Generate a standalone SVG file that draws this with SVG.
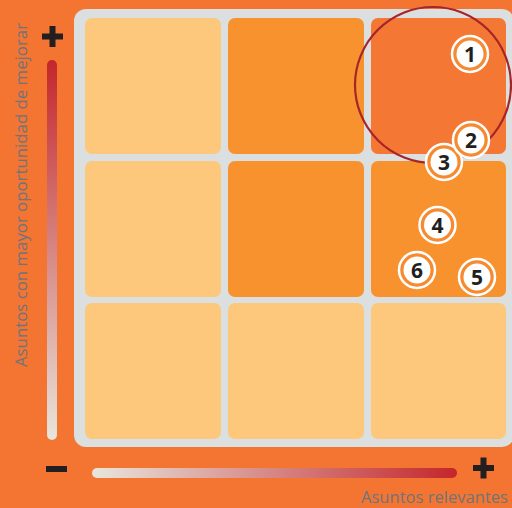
<svg xmlns="http://www.w3.org/2000/svg" width="512" height="508" viewBox="0 0 512 508">
<defs>
<linearGradient id="gv" x1="0" y1="1" x2="0" y2="0"><stop offset="0" stop-color="#E8E6DC"/><stop offset="1" stop-color="#C4262B"/></linearGradient>
<linearGradient id="gh" x1="0" y1="0" x2="1" y2="0"><stop offset="0" stop-color="#E8E6DC"/><stop offset="1" stop-color="#C4262B"/></linearGradient>
<style>
.cl{fill:#FDC77C}.co{fill:#F7922F}.cr{fill:#F47733}
.ring{fill:#F58A30;stroke:#fff;stroke-width:2.5}
.disc{fill:#fff}
.num{font-family:"Open Sans","Liberation Sans",sans-serif;font-weight:bold;font-size:21px;fill:#231F20;text-anchor:middle}
.lbl{font-family:"Open Sans","Liberation Sans",sans-serif;font-size:17px;fill:#70747A}
.blk{fill:#231F20}
</style>
</defs>
<rect width="512" height="508" fill="#F47532"/>
<g id="board">
<rect x="74" y="9" width="440" height="438" rx="12" fill="#DCDFE0"/>
<rect class="cl" x="85" y="18" width="136" height="136" rx="7"/>
<rect class="co" x="228" y="18" width="136" height="136" rx="7"/>
<rect class="cr" x="371" y="18" width="135" height="136" rx="7"/>
<rect class="cl" x="85" y="161" width="136" height="136" rx="7"/>
<rect class="co" x="228" y="161" width="136" height="136" rx="7"/>
<rect class="co" x="371" y="161" width="135" height="136" rx="7"/>
<rect class="cl" x="85" y="303" width="136" height="136" rx="7"/>
<rect class="cl" x="228" y="303" width="136" height="136" rx="7"/>
<rect class="cl" x="371" y="303" width="135" height="136" rx="7"/>
</g>
<g id="highlight"><circle cx="433" cy="85" r="78" fill="none" stroke="#A6252A" stroke-width="2.2"/></g>
<g id="b3"><circle class="ring" cx="444" cy="162" r="18"/><circle class="disc" cx="444" cy="162" r="13.5"/><text class="num" x="444" y="169.5">3</text></g>
<g id="b2"><circle class="ring" cx="471" cy="140" r="18"/><circle class="disc" cx="471" cy="140" r="13.5"/><text class="num" x="471" y="147.5">2</text></g>
<g id="b1"><circle class="ring" cx="470" cy="54" r="18"/><circle class="disc" cx="470" cy="54" r="13.5"/><text class="num" x="470" y="61.5">1</text></g>
<g id="b4"><circle class="ring" cx="437.5" cy="225" r="18"/><circle class="disc" cx="437.5" cy="225" r="13.5"/><text class="num" x="437.5" y="232.5">4</text></g>
<g id="b6"><circle class="ring" cx="417" cy="270" r="18"/><circle class="disc" cx="417" cy="270" r="13.5"/><text class="num" x="417" y="277.5">6</text></g>
<g id="b5"><circle class="ring" cx="477" cy="277" r="18"/><circle class="disc" cx="477" cy="277" r="13.5"/><text class="num" x="477" y="284.5">5</text></g>
<g id="yaxis">
<rect class="blk" x="42" y="33.5" width="21" height="6"/><rect class="blk" x="49.5" y="26" width="6" height="21"/>
<rect x="47" y="60" width="10" height="380" rx="5" fill="url(#gv)"/>
<text class="lbl" transform="translate(27,367) rotate(-90)" textLength="344" lengthAdjust="spacingAndGlyphs">Asuntos con mayor oportunidad de mejorar</text>
</g>
<g id="xaxis">
<rect class="blk" x="46" y="466" width="21" height="6"/>
<rect x="92" y="468" width="365" height="10" rx="5" fill="url(#gh)"/>
<rect class="blk" x="473" y="465" width="21" height="6"/><rect class="blk" x="480.5" y="457.5" width="6" height="21"/>
<text class="lbl" x="361" y="503" textLength="147" lengthAdjust="spacingAndGlyphs">Asuntos relevantes</text>
</g>
</svg>
